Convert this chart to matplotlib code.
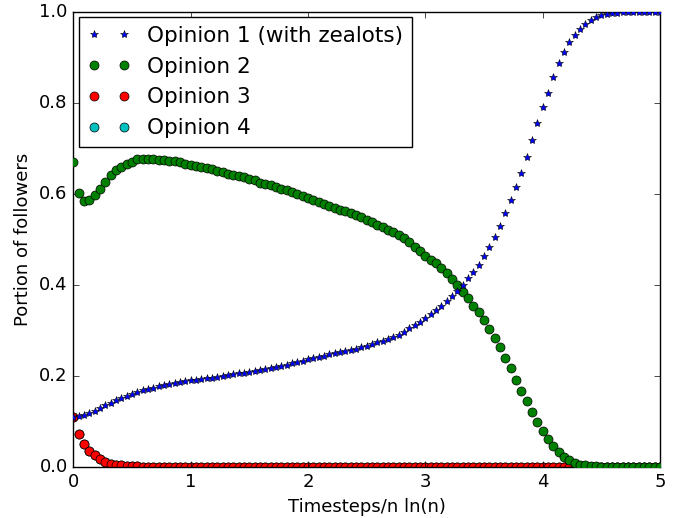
import numpy as np
import matplotlib
matplotlib.use("Agg")
import matplotlib.pyplot as plt

plt.style.use("classic")

x_max = 5.0
n_points = 111
timesteps = np.linspace(0, x_max, n_points)

opinion1 = [
    0.110, 0.112, 0.115, 0.119, 0.123, 0.129, 0.136, 0.142, 0.147, 0.152,
    0.157, 0.161, 0.165, 0.169, 0.172, 0.175, 0.178, 0.180, 0.183, 0.185,
    0.187, 0.189, 0.191, 0.192, 0.194, 0.196, 0.197, 0.199, 0.201, 0.203,
    0.204, 0.206, 0.207, 0.209, 0.211, 0.213, 0.215, 0.218, 0.220, 0.223,
    0.225, 0.228, 0.231, 0.234, 0.237, 0.240, 0.242, 0.245, 0.248, 0.250,
    0.253, 0.255, 0.258, 0.260, 0.263, 0.266, 0.270, 0.274, 0.277, 0.281,
    0.285, 0.291, 0.298, 0.305, 0.312, 0.319, 0.327, 0.336, 0.345, 0.354,
    0.365, 0.376, 0.388, 0.400, 0.415, 0.429, 0.445, 0.464, 0.484, 0.506,
    0.529, 0.558, 0.587, 0.615, 0.647, 0.682, 0.719, 0.755, 0.792, 0.823,
    0.856, 0.887, 0.913, 0.933, 0.949, 0.962, 0.974, 0.982, 0.988, 0.993,
    0.995, 0.997, 0.998, 0.999, 1.000, 1.000, 1.000, 1.000, 1.000, 1.000,
    1.000,
]

opinion2 = [
    0.671, 0.603, 0.585, 0.586, 0.598, 0.611, 0.627, 0.642, 0.652, 0.660,
    0.667, 0.671, 0.676, 0.678, 0.678, 0.677, 0.675, 0.674, 0.672, 0.672,
    0.670, 0.667, 0.664, 0.662, 0.660, 0.657, 0.654, 0.651, 0.648, 0.645,
    0.642, 0.640, 0.637, 0.633, 0.630, 0.625, 0.622, 0.619, 0.616, 0.612,
    0.609, 0.605, 0.600, 0.595, 0.591, 0.587, 0.583, 0.578, 0.574, 0.570,
    0.566, 0.562, 0.558, 0.554, 0.549, 0.544, 0.539, 0.533, 0.528, 0.522,
    0.516, 0.509, 0.503, 0.494, 0.484, 0.474, 0.464, 0.456, 0.448, 0.437,
    0.426, 0.413, 0.400, 0.385, 0.371, 0.355, 0.341, 0.323, 0.304, 0.284,
    0.263, 0.241, 0.217, 0.192, 0.168, 0.145, 0.122, 0.100, 0.080, 0.062,
    0.046, 0.033, 0.023, 0.015, 0.009, 0.006, 0.004, 0.003, 0.002, 0.001,
    0.001, 0.000, 0.000, 0.000, 0.000, 0.000, 0.000, 0.000, 0.000, 0.000,
    0.000,
]

opinion3 = [0.110, 0.073, 0.052, 0.036, 0.026, 0.018, 0.012, 0.008, 0.006, 0.004,
            0.003, 0.002, 0.002, 0.001, 0.001] + [0.0] * 96

opinion4 = [0.110, 0.073, 0.052, 0.036, 0.026, 0.018, 0.012, 0.008, 0.006, 0.004,
            0.003, 0.002, 0.002, 0.001, 0.001] + [0.0] * 96

labels = ["Opinion 1 (with zealots)", "Opinion 2", "Opinion 3", "Opinion 4"]

fig = plt.figure(figsize=(6.84, 5.18), dpi=100, facecolor="white")
ax = fig.add_axes([0.107, 0.098, 0.858, 0.879])

ms = 6.5
ax.plot(timesteps, opinion1, "b*", ms=6, mew=0.4, label=labels[0], zorder=4)
ax.plot(timesteps, opinion2, "go", ms=ms, label=labels[1], zorder=3)
ax.plot(timesteps, opinion3, "ro", ms=ms, label=labels[2], zorder=2.5)
ax.plot(timesteps, opinion4, "co", ms=ms, label=labels[3], zorder=2)

ax.set_xlim(0, 5)
ax.set_ylim(0, 1)
ax.set_xticks([0, 1, 2, 3, 4, 5])
ax.set_yticks([0.0, 0.2, 0.4, 0.6, 0.8, 1.0])
ax.tick_params(labelsize=13)
ax.set_xlabel("Timesteps/n ln(n)", fontsize=13)
ax.set_ylabel("Portion of followers", fontsize=13)

ax.legend(loc="upper left", numpoints=2, fontsize=15.5, borderaxespad=0.25)

fig.savefig("out.png", dpi=100, facecolor="white")
